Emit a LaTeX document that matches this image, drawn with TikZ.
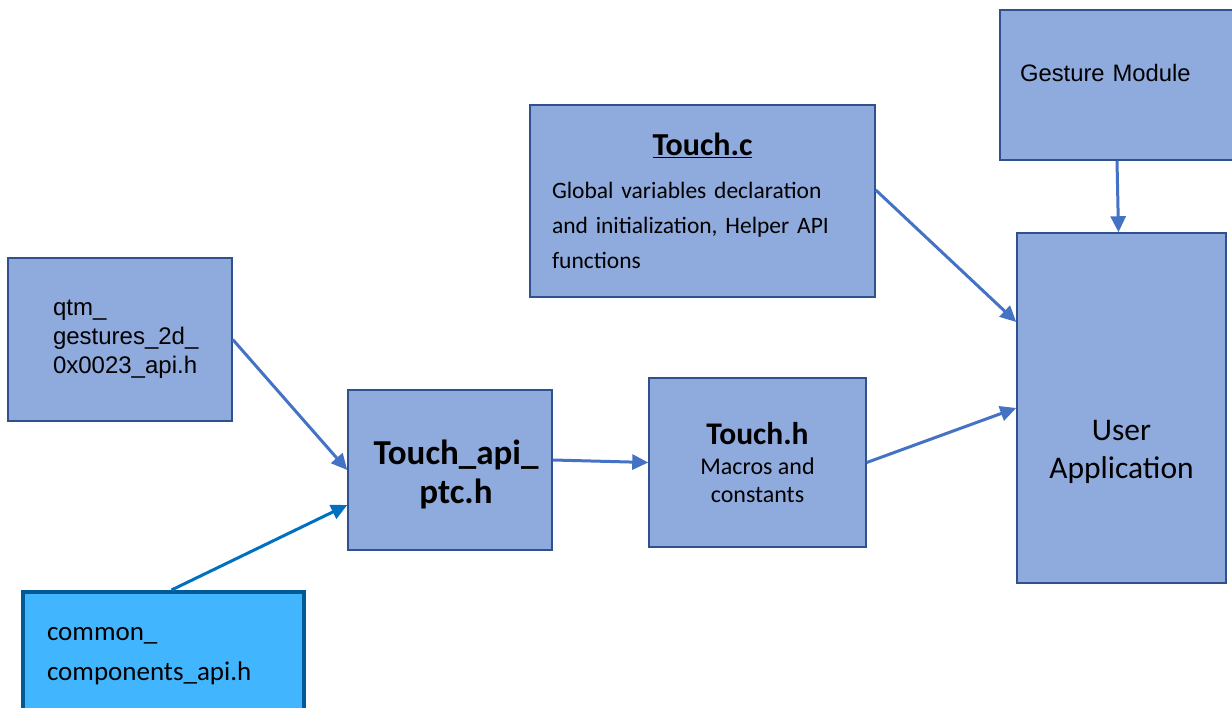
\documentclass[tikz,border=0pt]{standalone}
\usepackage{fontspec}
\setmainfont{Carlito}
\newfontfamily\arialfont{Liberation Sans}
\usetikzlibrary{arrows.meta}
\definecolor{boxfill}{RGB}{143,170,220}
\definecolor{boxline}{RGB}{47,82,143}
\definecolor{arrowblue}{RGB}{68,114,196}
\definecolor{comfill}{RGB}{65,182,255}
\definecolor{comline}{RGB}{0,90,150}
\definecolor{comarrow}{RGB}{0,112,192}
\tikzset{
	blk/.style={draw=boxline,fill=boxfill,line width=1.5pt,rectangle,inner sep=0pt},
	link/.style={draw=arrowblue,line width=3pt,-{Triangle[length=16pt,width=15pt]}},
}
\begin{document}
\begin{tikzpicture}[x=1pt,y=-1pt]
				\useasboundingbox (0,0) rectangle (1232,708);
				\node[blk,minimum width=224,minimum height=163,text width=134,inner xsep=45,align=left,font=\arialfont\fontsize{24}{29}\selectfont] (qtm) at (120,339.5){qtm\_\\gestures\_2d\_\\0x0023\_api.h};
				\node[blk,minimum width=204,minimum height=160,align=center,font=\bfseries\fontsize{35}{39}\selectfont] (api) at (450,470){\mbox{}\\[-5pt]\hspace*{12pt}Touch\_api\_\\\hspace*{12pt}ptc.h};
				\node[blk,draw=comline,fill=comfill,line width=4pt,minimum width=281,minimum height=128,text width=233,inner xsep=24,align=left,font=\fontsize{27}{40}\selectfont] (com) at (163.5,656){common\_\\components\_api.h};
				\node[blk,minimum width=345,minimum height=192,text width=301,inner xsep=22,align=left,font=\fontsize{23.5}{35}\selectfont] (tc) at (702.5,201){\hfill\textbf{\fontsize{32}{36}\selectfont\underline{Touch.c}}\hfill\mbox{}\\[8pt]Global variables declaration\\and initialization, Helper API\\functions};
				\node[blk,minimum width=217,minimum height=169,align=center,font=\fontsize{24}{28}\selectfont] (th) at (757.5,462.5){\textbf{\fontsize{31.5}{34}\selectfont Touch.h}\\[2pt]Macros and\\constants};
				\node[blk,minimum width=209,minimum height=350,align=center,font=\fontsize{31.5}{38}\selectfont] (ua) at (1121.5,408){\mbox{}\\[70pt]User\\Application};
				\node[blk,minimum width=250,minimum height=150,text width=210,inner xsep=20,text depth=24pt,align=left,font=\arialfont\fontsize{23.8}{28}\selectfont] (gm) at (1125,85){Gesture Module};
				% arrows
				\draw[link] (qtm.east)--(api.west);
				\draw[link,draw=comarrow] ([xshift=8]com.north)--([yshift=-35]api.west);
				\draw[link] ([yshift=10]api.east)--(th.west);
				\draw[link] (th.east)--(ua.west);
				\draw[link] ([yshift=11]tc.east)--([yshift=86]ua.west);
				\draw[link] ([xshift=-8]gm.south)--([xshift=-3]ua.north);
				\end{tikzpicture}
\end{document}
